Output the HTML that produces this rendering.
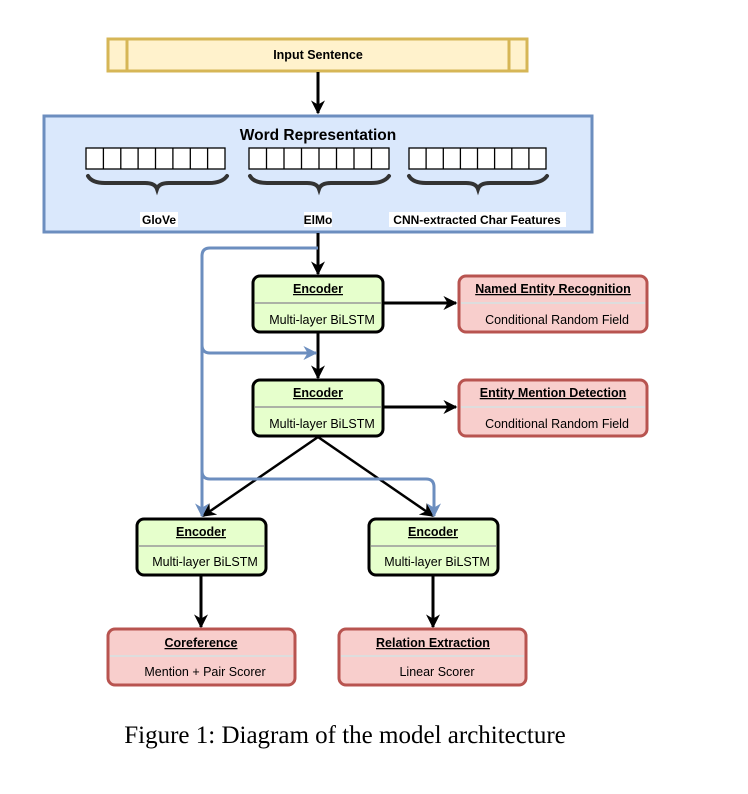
<!DOCTYPE html>
<html><head><meta charset="utf-8"><style>
html,body{margin:0;padding:0;background:#fff;}
svg text{font-family:"Liberation Sans",sans-serif;}
</style></head><body>
<svg width="748" height="789" viewBox="0 0 748 789" xmlns="http://www.w3.org/2000/svg">
<defs>
<marker id="ak" viewBox="0 0 10 10" markerWidth="14" markerHeight="14" refX="9" refY="5" orient="auto" markerUnits="userSpaceOnUse"><path d="M0,0 L10,5 L0,10 L3,5 Z" fill="#000"/></marker>
<marker id="bl" viewBox="0 0 10 10" markerWidth="14" markerHeight="14" refX="9" refY="5" orient="auto" markerUnits="userSpaceOnUse"><path d="M0,0 L10,5 L0,10 L3,5 Z" fill="#6c8ebf"/></marker>
</defs>
<rect x="108" y="39" width="419" height="32" fill="#fff2cc" stroke="#d6b656" stroke-width="3"/>
<line x1="127" y1="39" x2="127" y2="71" stroke="#d6b656" stroke-width="3"/>
<line x1="509" y1="39" x2="509" y2="71" stroke="#d6b656" stroke-width="3"/>
<text x="318" y="59" font-size="12.5" font-weight="bold" text-anchor="middle">Input Sentence</text>
<line x1="318" y1="72" x2="318" y2="113" stroke="#000" stroke-width="3" marker-end="url(#ak)"/>
<rect x="44" y="116" width="548" height="116" fill="#dae8fc" stroke="#6c8ebf" stroke-width="3"/>
<text x="318" y="140" font-size="15.5" font-weight="bold" text-anchor="middle">Word Representation</text>
<g fill="#fff" stroke="#000" stroke-width="1.3">
<rect x="86" y="148" width="139" height="21"/>
<rect x="249" y="148" width="140" height="21"/>
<rect x="409" y="148" width="137" height="21"/>
</g>
<g stroke="#000" stroke-width="1.3">
<line x1="103.4" y1="148" x2="103.4" y2="169"/><line x1="120.8" y1="148" x2="120.8" y2="169"/><line x1="138.1" y1="148" x2="138.1" y2="169"/><line x1="155.5" y1="148" x2="155.5" y2="169"/><line x1="172.9" y1="148" x2="172.9" y2="169"/><line x1="190.3" y1="148" x2="190.3" y2="169"/><line x1="207.6" y1="148" x2="207.6" y2="169"/>
<line x1="266.5" y1="148" x2="266.5" y2="169"/><line x1="284" y1="148" x2="284" y2="169"/><line x1="301.5" y1="148" x2="301.5" y2="169"/><line x1="319" y1="148" x2="319" y2="169"/><line x1="336.5" y1="148" x2="336.5" y2="169"/><line x1="354" y1="148" x2="354" y2="169"/><line x1="371.5" y1="148" x2="371.5" y2="169"/>
<line x1="426.1" y1="148" x2="426.1" y2="169"/><line x1="443.3" y1="148" x2="443.3" y2="169"/><line x1="460.4" y1="148" x2="460.4" y2="169"/><line x1="477.5" y1="148" x2="477.5" y2="169"/><line x1="494.6" y1="148" x2="494.6" y2="169"/><line x1="511.8" y1="148" x2="511.8" y2="169"/><line x1="528.9" y1="148" x2="528.9" y2="169"/>
</g>
<g fill="none" stroke="#333" stroke-width="4" stroke-linecap="round">
<path d="M88,176 Q92,183 105,183 L145,183 Q155,183 157,189 Q159,183 169,183 L209,183 Q222,183 227,176"/>
<path d="M250,176 Q254,183 267,183 L307,183 Q317,183 319,189 Q321,183 331,183 L371,183 Q384,183 389,176"/>
<path d="M409,176 Q413,183 426,183 L466,183 Q476,183 478,189 Q480,183 490,183 L529,183 Q542,183 547,176"/>
</g>
<rect x="140" y="212" width="38" height="15" fill="#fff"/>
<rect x="304" y="212" width="28" height="15" fill="#fff"/>
<rect x="389" y="212" width="177" height="15" fill="#fff"/>
<text x="159" y="224" font-size="12" font-weight="bold" text-anchor="middle">GloVe</text>
<text x="318" y="224" font-size="12" font-weight="bold" text-anchor="middle">ElMo</text>
<text x="477" y="224" font-size="12" font-weight="bold" text-anchor="middle">CNN-extracted Char Features</text>
<line x1="318" y1="233" x2="318" y2="274" stroke="#000" stroke-width="3" marker-end="url(#ak)"/>
<line x1="318" y1="333" x2="318" y2="378" stroke="#000" stroke-width="3" marker-end="url(#ak)"/>
<line x1="384" y1="303" x2="456" y2="303" stroke="#000" stroke-width="3" marker-end="url(#ak)"/>
<line x1="384" y1="407" x2="456" y2="407" stroke="#000" stroke-width="3" marker-end="url(#ak)"/>
<line x1="318" y1="437" x2="203" y2="516" stroke="#000" stroke-width="2.5" marker-end="url(#ak)"/>
<line x1="318" y1="437" x2="433" y2="516" stroke="#000" stroke-width="2.5" marker-end="url(#ak)"/>
<line x1="201" y1="576" x2="201" y2="627" stroke="#000" stroke-width="3" marker-end="url(#ak)"/>
<line x1="433" y1="576" x2="433" y2="627" stroke="#000" stroke-width="3" marker-end="url(#ak)"/>
<g fill="none" stroke="#6c8ebf" stroke-width="3">
<path d="M318,248 L210,248 Q202,248 202,256 L202,516" marker-end="url(#bl)"/>
<path d="M202,345 Q202,353 210,353 L316,353" marker-end="url(#bl)"/>
<path d="M202,471 Q202,479 210,479 L426,479 Q434,479 434,487 L434,516" marker-end="url(#bl)"/>
</g>
<g stroke-width="3">
<rect x="253" y="276" width="130" height="56" rx="7" fill="#e6ffcc" stroke="#000"/>
<rect x="253" y="380" width="130" height="56" rx="7" fill="#e6ffcc" stroke="#000"/>
<rect x="137" y="519" width="129" height="56" rx="7" fill="#e6ffcc" stroke="#000"/>
<rect x="369" y="519" width="129" height="56" rx="7" fill="#e6ffcc" stroke="#000"/>
<rect x="459" y="276" width="188" height="56" rx="7" fill="#f8cecc" stroke="#b85450"/>
<rect x="459" y="380" width="188" height="56" rx="7" fill="#f8cecc" stroke="#b85450"/>
<rect x="108" y="629" width="187" height="56" rx="7" fill="#f8cecc" stroke="#b85450"/>
<rect x="339" y="629" width="187" height="56" rx="7" fill="#f8cecc" stroke="#b85450"/>
</g>
<g stroke="#999" stroke-width="1.5">
<line x1="255" y1="303" x2="381" y2="303"/><line x1="255" y1="407" x2="381" y2="407"/>
<line x1="139" y1="546" x2="264" y2="546"/><line x1="371" y1="546" x2="496" y2="546"/>
</g>
<g stroke="#ddd" stroke-width="2">
<line x1="461" y1="303" x2="645" y2="303"/><line x1="461" y1="407" x2="645" y2="407"/>
<line x1="110" y1="656" x2="293" y2="656"/><line x1="341" y1="656" x2="524" y2="656"/>
</g>
<g font-size="12.5" text-anchor="middle">
<g font-weight="bold" text-decoration="underline">
<text x="318" y="293">Encoder</text><text x="318" y="397">Encoder</text>
<text x="201" y="536">Encoder</text><text x="433" y="536">Encoder</text>
<text x="553" y="293">Named Entity Recognition</text><text x="553" y="397">Entity Mention Detection</text>
<text x="201" y="647">Coreference</text><text x="433" y="647">Relation Extraction</text>
</g>
<text x="322" y="324">Multi-layer BiLSTM</text><text x="322" y="428">Multi-layer BiLSTM</text>
<text x="205" y="566">Multi-layer BiLSTM</text><text x="437" y="566">Multi-layer BiLSTM</text>
<text x="557" y="324">Conditional Random Field</text><text x="557" y="428">Conditional Random Field</text>
<text x="205" y="676">Mention + Pair Scorer</text><text x="437" y="676">Linear Scorer</text>
</g>
<text x="345" y="743" font-size="25" text-anchor="middle" style="font-family:'Liberation Serif',serif">Figure 1: Diagram of the model architecture</text>
</svg>
</body></html>
